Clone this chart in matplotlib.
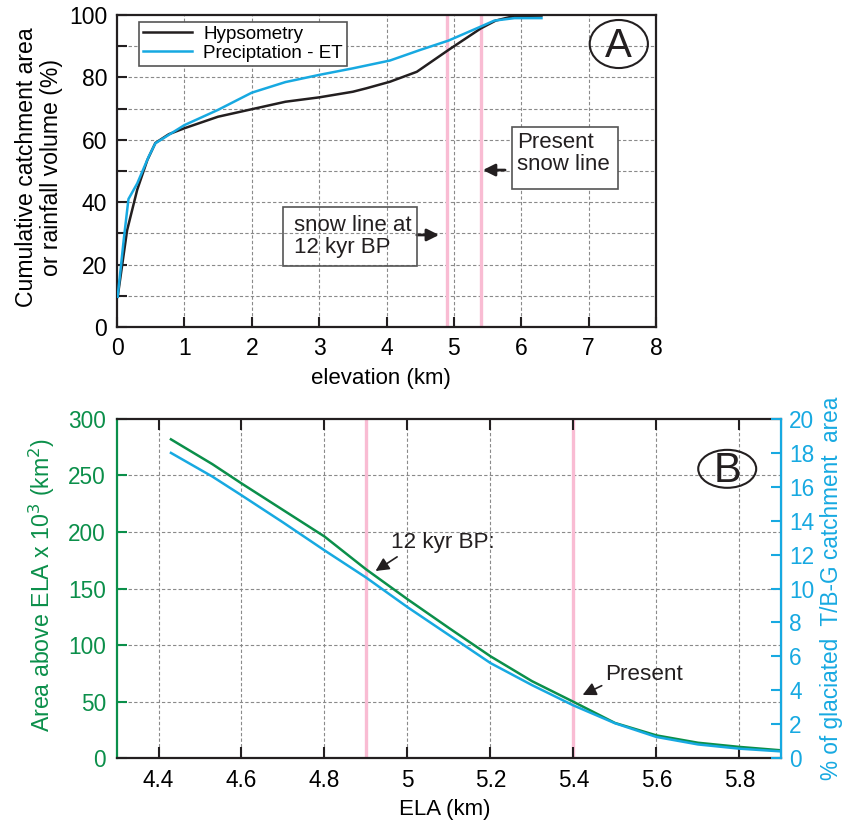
import matplotlib
matplotlib.use('Agg')
import matplotlib.pyplot as plt
from matplotlib.patches import Rectangle, Ellipse

plt.rcParams['font.family'] = ['Liberation Sans', 'DejaVu Sans']

GREEN = '#0b8f4a'
BLUE = '#17a9e1'
PINK = '#f9bcd3'
DARK = '#231f20'
GRID = '#8a8a8a'

# Panel A: cumulative curves vs elevation
elev_hyps = [0.01, 0.15, 0.3, 0.45, 0.57, 0.77, 1.0, 1.5, 2.0, 2.5, 3.0, 3.5, 3.7, 4.05, 4.45, 4.92, 5.4, 5.62, 5.9, 6.3]
hypsometry = [9.7, 31, 44, 53.5, 59, 61.8, 63.7, 67.4, 69.8, 72.2, 73.6, 75.4, 76.5, 78.6, 81.8, 88.8, 95.7, 98.2, 99.7, 99.8]
elev_prec = [0.01, 0.1, 0.17, 0.3, 0.47, 0.57, 0.77, 1.0, 1.5, 2.0, 2.5, 3.0, 3.5, 4.05, 4.5, 4.92, 5.4, 5.6, 5.9, 6.3]
precip_et = [9.7, 28, 41, 46, 54.6, 58.9, 61.6, 64.7, 69.6, 75.1, 78.5, 80.8, 82.9, 85.4, 88.8, 91.8, 96.3, 98.2, 99.0, 99.0]
snow_lines = [4.9, 5.4]

# Panel B: area above ELA and % glaciated
ela = [4.43, 4.53, 4.6, 4.7, 4.8, 4.9, 5.0, 5.1, 5.2, 5.3, 5.4, 5.5, 5.6, 5.7, 5.8, 5.9]
area_above = [282, 260, 243, 219.5, 196, 167, 140.5, 115, 90, 68, 49.7, 31, 20, 13.5, 9.8, 6.8]
pct_glaciated = [18.0, 16.6, 15.5, 13.9, 12.25, 10.65, 8.9, 7.25, 5.6, 4.3, 3.1, 2.05, 1.24, 0.8, 0.55, 0.39]

fig = plt.figure(figsize=(8.48, 8.22), dpi=100)

# ---------------- A ----------------
axa = fig.add_axes([117/848, 1-327/822, 539/848, 312/822])
axa.set_xlim(0, 8)
axa.set_ylim(0, 100)
axa.set_xticks(range(0, 9))
axa.set_yticks(range(0, 101, 10))
axa.set_yticklabels([str(v) if v % 20 == 0 else '' for v in range(0, 101, 10)])
for x in range(1, 8):
    axa.axvline(x, color=GRID, ls=(0, (3, 2)), lw=0.8, zorder=0)
for y in range(10, 100, 10):
    axa.axhline(y, color=GRID, ls=(0, (3, 2)), lw=0.8, zorder=0)
for x in snow_lines:
    axa.axvline(x, color=PINK, lw=2.4, zorder=1)
axa.plot(elev_hyps, hypsometry, color=DARK, lw=1.8, label='Hypsometry', zorder=3)
axa.plot(elev_prec, precip_et, color=BLUE, lw=1.8, label='Preciptation - ET', zorder=3)
axa.tick_params(direction='in', length=7, width=1.5, labelsize=16.5, pad=7, color=DARK)
axa.tick_params(axis='x', top=False)
for s in axa.spines.values():
    s.set_linewidth(1.6)
    s.set_color(DARK)
axa.set_xlabel('elevation (km)', fontsize=16)
axa.xaxis.set_label_coords(0.49, -0.13)
axa.set_ylabel('Cumulative catchment area\nor rainfall volume (%)', fontsize=16.6, linespacing=1.1)
axa.yaxis.set_label_coords(-0.1, 0.512)
leg = axa.legend(loc='upper left', bbox_to_anchor=(0.041, 0.978), borderaxespad=0,
                 fontsize=13.6, fancybox=False, edgecolor='#555555', framealpha=1,
                 handlelength=2.6, labelspacing=0.1, borderpad=0.2, handletextpad=0.6)
leg.get_frame().set_linewidth(1.2)

axa.add_patch(Rectangle((2.46, 19.6), 1.99, 18.8, fill=False, ec='#555555', lw=1.2, zorder=4))
axa.text(2.62, 29, 'snow line at\n12 kyr BP', fontsize=16, va='center', ha='left', color=DARK,
         linespacing=1.05, zorder=5)
axa.annotate('', xy=(4.78, 29.5), xytext=(4.45, 29.5),
             arrowprops=dict(arrowstyle='-|>', color=DARK, lw=2, mutation_scale=18, shrinkA=0, shrinkB=0))
axa.add_patch(Rectangle((5.87, 44.2), 1.57, 19.8, fc='white', ec='#555555', lw=1.2, zorder=4))
axa.text(5.94, 55.5, 'Present\nsnow line', fontsize=16, va='center', ha='left', color=DARK,
         linespacing=1.05, zorder=5)
axa.annotate('', xy=(5.43, 50.3), xytext=(5.76, 50.3),
             arrowprops=dict(arrowstyle='-|>', color=DARK, lw=2, mutation_scale=18, shrinkA=0, shrinkB=0))
axa.add_patch(Ellipse((0.931, 0.907), 0.108, 0.154, transform=axa.transAxes, fill=False, ec=DARK, lw=1.5, zorder=5))
axa.text(0.931, 0.902, 'A', transform=axa.transAxes, fontsize=29, ha='center', va='center', color=DARK, zorder=6)

# ---------------- B ----------------
axb = fig.add_axes([117/848, 1-758/822, 664/848, 339/822])
axb.set_xlim(4.3, 5.9)
axb.set_ylim(0, 300)
xt = [4.4, 4.6, 4.8, 5.0, 5.2, 5.4, 5.6, 5.8]
axb.set_xticks(xt)
axb.set_xticklabels(['4.4', '4.6', '4.8', '5', '5.2', '5.4', '5.6', '5.8'])
axb.set_yticks(range(0, 301, 50))
for x in xt:
    axb.axvline(x, color=GRID, ls=(0, (3, 2)), lw=0.8, zorder=0)
for y in range(50, 300, 50):
    axb.axhline(y, color=GRID, ls=(0, (3, 2)), lw=0.8, zorder=0)
for x in snow_lines:
    axb.axvline(x, color=PINK, lw=2.4, zorder=1)
axb.plot(ela, area_above, color=GREEN, lw=1.8, zorder=3)
axb.tick_params(axis='x', direction='in', length=8, width=1.5, labelsize=16.3, pad=8, top=True, color=DARK)
axb.tick_params(axis='y', direction='in', length=7, width=1.5, labelsize=16.3, pad=8, colors=GREEN)
for side in ['top', 'bottom']:
    axb.spines[side].set_linewidth(1.6)
    axb.spines[side].set_color(DARK)
axb.spines['left'].set_linewidth(1.6)
axb.spines['left'].set_color(GREEN)
axb.set_xlabel('ELA (km)', fontsize=16)
axb.xaxis.set_label_coords(0.494, -0.122)
axb.set_ylabel('Area above ELA x 10$^{3}$ (km$^{2}$)', fontsize=16.7, color=GREEN)
axb.yaxis.set_label_coords(-0.09, 0.51)

axr = axb.twinx()
axr.set_ylim(0, 20)
axr.set_yticks(range(0, 21, 2))
axr.plot(ela, pct_glaciated, color=BLUE, lw=1.8, zorder=3)
axr.tick_params(axis='y', direction='in', length=7, width=1.5, labelsize=16.3, pad=6, colors=BLUE)
axr.spines['right'].set_linewidth(1.6)
axr.spines['right'].set_color(BLUE)
axr.spines['left'].set_visible(False)
axr.spines['top'].set_visible(False)
axr.spines['bottom'].set_visible(False)
axr.set_ylabel('% of glaciated  T/B-G catchment  area', fontsize=16.3, color=BLUE)
axr.yaxis.set_label_coords(1.058, 0.50)

axb.text(4.96, 191, '12 kyr BP:', fontsize=16.2, ha='left', va='center', color=DARK)
axb.annotate('', xy=(4.923, 165.5), xytext=(4.975, 178),
             arrowprops=dict(arrowstyle='-|>', color=DARK, lw=1.2, mutation_scale=20, shrinkA=0, shrinkB=0))
axb.text(5.477, 74, 'Present', fontsize=16.2, ha='left', va='center', color=DARK)
axb.annotate('', xy=(5.422, 55.8), xytext=(5.468, 64),
             arrowprops=dict(arrowstyle='-|>', color=DARK, lw=1.2, mutation_scale=20, shrinkA=0, shrinkB=0))
axb.add_patch(Ellipse((0.919, 0.853), 0.0873, 0.112, transform=axb.transAxes, fill=False, ec=DARK, lw=1.5, zorder=5))
axb.text(0.919, 0.848, 'B', transform=axb.transAxes, fontsize=30, ha='center', va='center', color=DARK, zorder=6)

fig.savefig('out.png', dpi=100)
